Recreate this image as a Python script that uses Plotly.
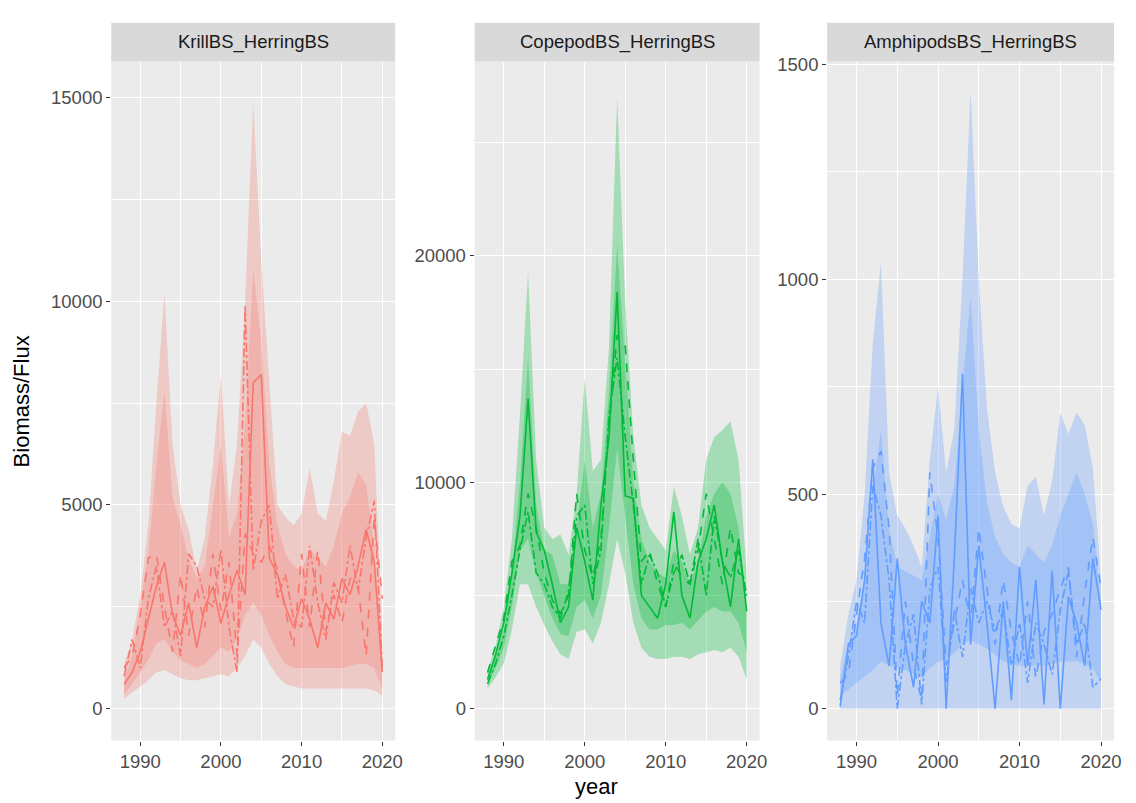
import plotly.graph_objects as go

years = list(range(1988, 2021))

# ---- KrillBS_HerringBS ----
krill_hi95 = [1100, 1700, 2800, 4500, 7500, 10200, 6500, 5000, 4400, 3400, 4200, 6000, 8200, 5000, 6500, 10000,
              14900, 11000, 8000, 5000, 4700, 4500, 4800, 5900, 4800, 4600, 5600, 6800, 6700, 7300, 7500, 6500, 2000]
krill_hi80 = [700, 1300, 2500, 3800, 6000, 7800, 5200, 4500, 3700, 3200, 3500, 5000, 6500, 4200, 4800, 7000,
              10800, 9000, 6000, 4500, 3800, 3500, 3400, 3900, 3700, 3500, 4000, 4800, 5200, 5800, 5500, 4000, 1500]
krill_lo80 = [350, 600, 900, 1200, 1600, 1700, 1400, 1200, 1100, 1000, 1100, 1300, 1500, 1400, 1700, 2300,
              2600, 2300, 1800, 1400, 1100, 1000, 1000, 1000, 1000, 1000, 1000, 1000, 1050, 1100, 1100, 1000, 500]
krill_lo95 = [250, 400, 550, 700, 900, 950, 850, 750, 700, 700, 750, 800, 850, 800, 1000, 1300,
              1700, 1500, 1100, 800, 600, 550, 500, 500, 500, 500, 500, 500, 500, 500, 500, 450, 330]
krill_l1 = [600, 900, 1400, 2200, 3000, 3600, 2300, 1800, 2600, 1500, 2500, 3000, 2100, 2800, 3400, 2800,
            8000, 8200, 3700, 3300, 2500, 2000, 2700, 2200, 1500, 2600, 2200, 3200, 2800, 3500, 4400, 3600, 900]
krill_l2 = [1000, 1300, 2300, 3700, 3800, 2500, 1400, 3300, 1800, 3000, 2000, 3800, 2400, 3600, 1300, 4300,
            3800, 3600, 4000, 3400, 2400, 1500, 3800, 2000, 3900, 1900, 2800, 2100, 3200, 3000, 1300, 4700, 2700]
krill_l3 = [800, 1700, 1000, 2700, 3500, 2000, 2400, 1300, 3800, 3500, 2700, 2500, 3900, 2000, 900, 9900,
            3400, 4600, 5000, 2700, 3300, 2200, 2000, 4000, 2600, 1700, 3100, 2600, 4000, 2900, 4200, 5100, 1000]

# ---- CopepodBS_HerringBS ----
cope_hi95 = [1700, 2800, 4500, 7500, 13000, 19300, 11000, 8000, 7500, 7700, 6800, 9500, 14600, 10500, 11000, 16000,
             27000, 18000, 12000, 9000, 8000, 7500, 7000, 9800, 8500, 6800, 8000, 11000, 12000, 12300, 12700, 11000, 6000]
cope_hi80 = [1400, 2300, 3500, 6000, 10000, 15500, 9000, 7000, 6800, 5500, 5500, 8000, 11000, 8000, 9500, 14000,
             20500, 15000, 10000, 7500, 6500, 6000, 5800, 7000, 6500, 5500, 6500, 8500, 9500, 10000, 9500, 8000, 4500]
cope_lo80 = [1100, 1800, 2700, 4500, 7000, 7500, 6000, 5000, 4000, 3300, 3200, 4500, 4800, 4000, 5000, 8000,
             11500, 8500, 5500, 4000, 3500, 3500, 3700, 3700, 3800, 3500, 3900, 4300, 4500, 4300, 4300, 3800, 2500]
cope_lo95 = [900, 1400, 2000, 3500, 5500, 5500, 4500, 3700, 3000, 2400, 2200, 3400, 3500, 2900, 3800, 5500,
             7500, 6000, 3800, 2700, 2300, 2200, 2200, 2300, 2300, 2200, 2400, 2500, 2600, 2500, 2700, 2300, 1300]
cope_l1 = [1300, 2400, 3800, 6000, 8500, 13700, 7800, 7000, 5500, 3800, 4500, 8000, 6500, 4800, 9000, 12000,
           18400, 9400, 9300, 5000, 4500, 4000, 5500, 8700, 5000, 4000, 6500, 7500, 9000, 6500, 4500, 7500, 4300]
cope_l2 = [1600, 2800, 4000, 6500, 7200, 9500, 8000, 6000, 4800, 4200, 5000, 9500, 7000, 5800, 7500, 12500,
           16500, 16000, 11000, 6500, 7000, 5500, 4500, 6500, 5800, 5500, 7000, 9500, 7500, 5500, 8000, 6000, 5800]
cope_l3 = [1100, 2000, 3200, 5000, 7000, 8700, 6000, 5500, 4500, 4000, 5200, 8500, 9000, 5500, 7000, 13000,
           15500, 12000, 9000, 5500, 6800, 6000, 4500, 6000, 6800, 5500, 7500, 5000, 8500, 6500, 5800, 7000, 5000]

# ---- AmphipodsBS_HerringBS ----
amph_hi95 = [100, 220, 300, 500, 850, 1040, 550, 450, 420, 380, 330, 580, 750, 550, 650, 1000,
             1440, 1000, 700, 550, 470, 430, 420, 520, 540, 450, 530, 690, 640, 690, 660, 560, 300]
amph_hi80 = [70, 150, 200, 300, 500, 650, 420, 330, 320, 310, 300, 400, 500, 440, 520, 750,
             960, 650, 480, 400, 360, 340, 330, 380, 360, 340, 380, 450, 500, 550, 500, 430, 250]
amph_lo80 = [30, 45, 60, 75, 90, 110, 100, 95, 90, 80, 75, 95, 110, 115, 130, 150,
             160, 150, 140, 125, 110, 105, 100, 100, 100, 100, 105, 110, 110, 110, 105, 95, 60]
amph_lo95 = [0] * 33
amph_l1 = [5, 150, 170, 300, 580, 200, 100, 350, 150, 50, 250, 200, 450, 0, 350, 780,
           150, 380, 200, 0, 250, 20, 330, 100, 300, 10, 320, 0, 260, 200, 100, 350, 230]
amph_l2 = [60, 80, 220, 350, 560, 600, 420, 30, 250, 100, 20, 550, 400, 100, 200, 300,
           200, 420, 280, 150, 300, 180, 100, 250, 70, 180, 220, 280, 330, 120, 270, 400, 280]
amph_l3 = [20, 120, 250, 200, 520, 450, 300, 0, 150, 220, 10, 280, 330, 60, 230, 120,
           280, 200, 250, 180, 230, 100, 200, 60, 200, 150, 80, 230, 320, 150, 200, 50, 70]

panels = ["KrillBS_HerringBS", "CopepodBS_HerringBS", "AmphipodsBS_HerringBS"]
y_ticks = [[0, 5000, 10000, 15000], [0, 10000, 20000], [0, 500, 1000, 1500]]
x_ticks = [1990, 2000, 2010, 2020]

data = [
    (krill_hi95, krill_lo95, krill_hi80, krill_lo80, krill_l1, krill_l2, krill_l3),
    (cope_hi95, cope_lo95, cope_hi80, cope_lo80, cope_l1, cope_l2, cope_l3),
    (amph_hi95, amph_lo95, amph_hi80, amph_lo80, amph_l1, amph_l2, amph_l3),
]
colors = ["#F8766D", "#00BA38", "#619CFF"]
fills = ["rgba(248,118,109,0.28)", "rgba(0,186,56,0.30)", "rgba(97,156,255,0.30)"]

W, H = 1136, 803
px_x = [(112, 398), (478, 765), (833, 1122)]
top_px, bot_px = 55, 740
strip_top = 16
y_ranges = [[-778, 15877], [-1400, 28577], [-74, 1507]]
y_minor = [2500, 5000, 250]

FONT = "Liberation Sans, Arial, sans-serif"
TICK_SIZE = 18.5

fig = go.Figure()
layout = dict(
    width=W, height=H, margin=dict(l=0, r=0, t=0, b=0),
    paper_bgcolor="white", plot_bgcolor="#EBEBEB",
    showlegend=False, font=dict(family=FONT),
)
shapes = []
annotations = []

for i in range(3):
    hi95, lo95, hi80, lo80, l1, l2, l3 = data[i]
    xa = "x" if i == 0 else f"x{i+1}"
    ya = "y" if i == 0 else f"y{i+1}"
    fig.add_trace(go.Scatter(x=years + years[::-1], y=hi95 + lo95[::-1], fill="toself",
                             fillcolor=fills[i], line=dict(width=0), mode="lines",
                             xaxis=xa, yaxis=ya, hoverinfo="skip"))
    fig.add_trace(go.Scatter(x=years + years[::-1], y=hi80 + lo80[::-1], fill="toself",
                             fillcolor=fills[i], line=dict(width=0), mode="lines",
                             xaxis=xa, yaxis=ya, hoverinfo="skip"))
    for series, dash in ((l1, "solid"), (l2, "dash"), (l3, "dashdot")):
        fig.add_trace(go.Scatter(x=years, y=series, mode="lines",
                                 line=dict(color=colors[i], width=1.6, dash=dash),
                                 xaxis=xa, yaxis=ya))

    x0, x1 = px_x[i]
    xdom = [x0 / W, x1 / W]
    ydom = [1 - bot_px / H, 1 - top_px / H]
    axkey_x = "xaxis" if i == 0 else f"xaxis{i+1}"
    axkey_y = "yaxis" if i == 0 else f"yaxis{i+1}"
    layout[axkey_x] = dict(
        domain=xdom, anchor=ya, range=[1986.4, 2021.6],
        tickvals=x_ticks, ticks="outside", ticklen=4, tickwidth=1.1, tickcolor="#333333",
        tickfont=dict(family=FONT, size=TICK_SIZE, color="#4D4D4D"),
        showgrid=True, gridcolor="white", gridwidth=1.4,
        minor=dict(tickvals=[1985, 1995, 2005, 2015], showgrid=True, gridcolor="white", gridwidth=0.6, ticks=""),
        zeroline=False, showline=False, fixedrange=True,
    )
    yt = y_ticks[i]
    layout[axkey_y] = dict(
        domain=ydom, anchor=xa, range=y_ranges[i],
        tickvals=yt, ticktext=[str(v) for v in yt],
        ticks="outside", ticklen=4, tickwidth=1.1, tickcolor="#333333",
        tickfont=dict(family=FONT, size=TICK_SIZE, color="#4D4D4D"),
        showgrid=True, gridcolor="white", gridwidth=1.4,
        minor=dict(dtick=y_minor[i] * 2, tick0=y_minor[i], showgrid=True, gridcolor="white", gridwidth=0.6, ticks=""),
        zeroline=False, showline=False, fixedrange=True,
    )
    # facet strip
    shapes.append(dict(type="rect", xref="paper", yref="paper",
                       x0=xdom[0], x1=xdom[1], y0=1 - top_px / H, y1=1 - strip_top / H,
                       fillcolor="#D9D9D9", line=dict(width=0), layer="below"))
    annotations.append(dict(text=panels[i], xref="paper", yref="paper",
                            x=(xdom[0] + xdom[1]) / 2, y=1 - (strip_top + top_px) / 2 / H,
                            showarrow=False, xanchor="center", yanchor="middle",
                            font=dict(family=FONT, size=TICK_SIZE, color="#1A1A1A")))

annotations.append(dict(text="year", xref="paper", yref="paper", x=601 / W, y=1 - 786 / H,
                        showarrow=False, xanchor="center", yanchor="middle",
                        font=dict(family=FONT, size=22, color="black")))
annotations.append(dict(text="Biomass/Flux", xref="paper", yref="paper", x=22 / W, y=1 - 398 / H,
                        showarrow=False, xanchor="center", yanchor="middle", textangle=-90,
                        font=dict(family=FONT, size=22, color="black")))

layout["shapes"] = shapes
layout["annotations"] = annotations
fig.update_layout(**layout)
fig.write_html("out.html")
